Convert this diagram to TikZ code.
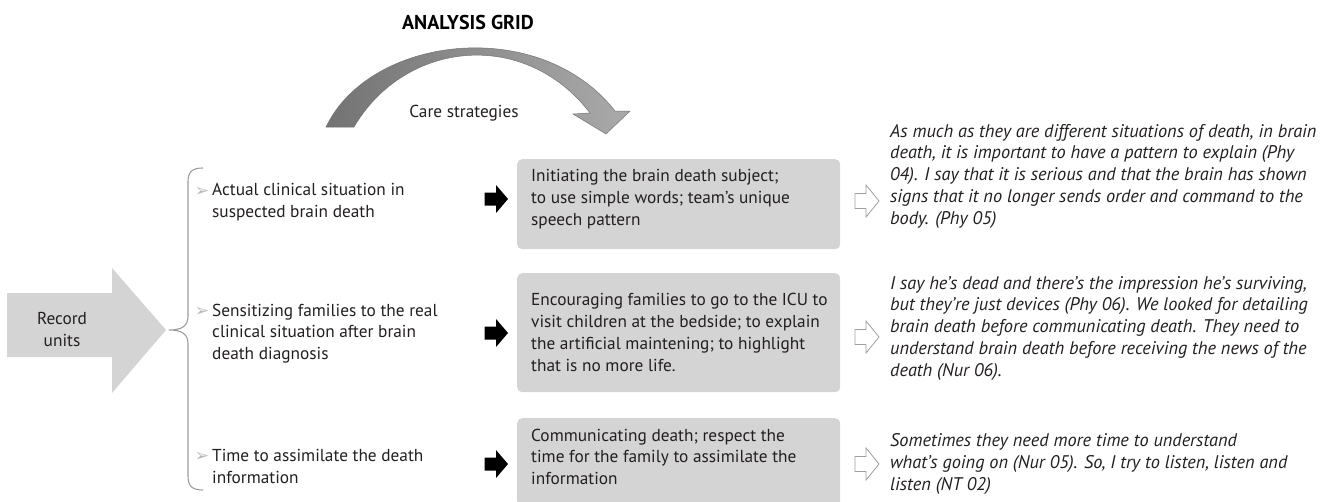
\documentclass[tikz,border=0pt]{standalone}
\usepackage{fontspec}
\setmainfont{PT Sans}
\newfontfamily\dejavu{DejaVu Sans}
\definecolor{boxgray}{RGB}{212,212,213}
\definecolor{txt}{RGB}{35,31,32}
\definecolor{bracegray}{RGB}{155,155,155}
\definecolor{arcdark}{RGB}{115,115,115}
\definecolor{arclight}{RGB}{170,170,170}
\tikzset{
  body/.style={font=\fontsize{17.3}{21.7}\selectfont, text=txt, align=left, inner sep=0pt},
  quote/.style={font=\fontsize{18.3}{21.7}\selectfont\itshape, text=txt, align=left, inner sep=0pt},
  bul/.style={font=\dejavu\fontsize{17}{17}\selectfont, text=gray!55, inner sep=0pt},
  gbox/.style={fill=boxgray, rounded corners=5pt, inner sep=0pt, anchor=north west},
  blk/.pic={\fill[black] (-11.5,-6.5) -- (0,-6.5) -- (0,-14) -- (12,0) -- (0,14) -- (0,6.5) -- (-11.5,6.5) -- cycle;},
  outl/.pic={\draw[gray!75, fill=white, line width=0.8pt, line join=miter] (-12,-7.5) -- (-1,-7.5) -- (-1,-16) -- (12,0) -- (-1,16) -- (-1,7.5) -- (-12,7.5) -- cycle;}
}
\begin{document}
\begin{tikzpicture}[x=1pt,y=-1pt]
\useasboundingbox (0,0) rectangle (1327,501);
% title
\node[font=\fontsize{20}{24}\selectfont\bfseries, text=black, inner sep=0pt, anchor=base] (title) at (468,29) {ANALYSIS GRID};
% curved arrow
\shade[left color=arcdark, right color=arclight, draw=gray!90!black, line width=0.5pt]
  (326,127) .. controls (370,35) and (540,15) .. (615,111) -- (630,111) -- (606,134) -- (573,114) -- (590,113)
  .. controls (525,28) and (405,40) .. (354,127) -- cycle;
\node[body, anchor=base] (care) at (464,117.5) {Care strategies};
% record units arrow
\fill[boxgray] (7,293) -- (112,293) -- (112,268) -- (166,330) -- (112,393) -- (112,357) -- (7,357) -- cycle;
\node[body, align=center, anchor=base] (rec) at (62,346.5) {Record\\units};
% brace
\draw[bracegray, line width=1.1pt] (203,168) .. controls (192,168) and (188,172) .. (188,182) -- (188,316)
  .. controls (188,326) and (182,330) .. (169,330) .. controls (182,330) and (188,334) .. (188,344)
  -- (188,476) .. controls (188,486) and (192,490) .. (203,490);
% items
\node[bul, anchor=base] (b1) at (202,196) {➢};
\node[body, anchor=base west] (i1) at (212,217.5) {Actual clinical situation in\\suspected brain death};
\node[bul, anchor=base] (b2) at (202,316) {➢};
\node[body, anchor=base west] (i2) at (212,359.5) {Sensitizing families to the real\\clinical situation after brain\\death diagnosis};
\node[bul, anchor=base] (b3) at (202,461) {➢};
\node[body, anchor=base west] (i3) at (212,483.5) {Time to assimilate the death\\information};
% black arrows
\pic at (496,199) {blk};
\pic at (496,333) {blk};
\pic at (496,464) {blk};
% gray boxes
\node[gbox, minimum width=323pt, minimum height=90pt] (g1) at (517,159) {};
\node[gbox, minimum width=323pt, minimum height=119pt] (g2) at (517,273) {};
\node[gbox, minimum width=323pt, minimum height=88pt] (g3) at (517,418) {};
\node[body, anchor=base west] (t1) at (531,225) {Initiating the brain death subject;\\to use simple words; team's unique\\speech pattern};
\node[body, anchor=base west] (t2) at (531,371) {Encouraging families to go to the ICU to\\visit children at the bedside; to explain\\the artificial maintening; to highlight\\that is no more life.};
\node[body, anchor=base west] (t3) at (531,484.5) {Communicating death; respect the\\time for the family to assimilate the\\information};
% outline arrows
\pic at (867,201) {outl};
\pic at (867,337) {outl};
\pic at (867,464) {outl};
% quotes
\node[quote, anchor=base west] (q1) at (890,224) {As much as they are different situations of death, in brain\\death, it is important to have a pattern to explain (Phy\\04). I say that it is serious and that the brain has shown\\signs that it no longer sends order and command to the\\body. (Phy 05)};
\node[quote, anchor=base west] (q2) at (890,376) {I say he’s dead and there’s the impression he’s surviving,\\but they’re just devices (Phy 06). We looked for detailing\\brain death before communicating death. They need to\\understand brain death before receiving the news of the\\death (Nur 06).};
\node[quote, anchor=base west] (q3) at (890,490) {Sometimes they need more time to understand\\what's going on (Nur 05). So, I try to listen, listen and\\listen (NT 02)};
\end{tikzpicture}
\end{document}
